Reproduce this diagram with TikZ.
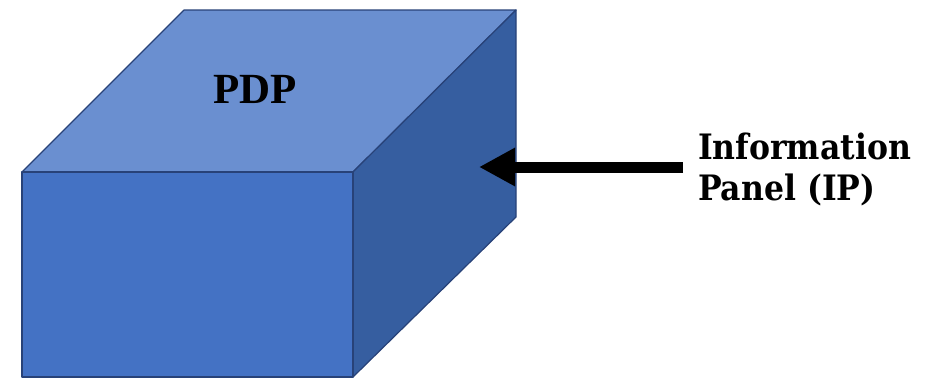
\documentclass[tikz,border=0pt]{standalone}
\usepackage{fontspec}
\setmainfont{Liberation Serif}
\newfontfamily\labfont{DejaVu Serif Condensed}
\usetikzlibrary{arrows.meta}
\definecolor{frontc}{RGB}{68,114,196}
\definecolor{topc}{RGB}{106,143,208}
\definecolor{sidec}{RGB}{54,94,160}
\definecolor{edgec}{RGB}{40,66,120}
\tikzset{
  face/.style={draw=edgec, line width=1.2pt, line join=round},
  pointer/.style={line width=11pt, -{Triangle[length=36pt,width=36pt]}},
  caption/.style={font=\labfont\bfseries\fontsize{35}{41}\selectfont, align=left, anchor=base west, inner sep=0pt}
}
\begin{document}
\begin{tikzpicture}[x=1pt,y=-1pt]
\useasboundingbox (0,0) rectangle (927,378);
% faces
\fill[topc] (22,172) -- (184,10) -- (516,10) -- (353,172) -- cycle;
\draw[face] (22,172) -- (184,10) -- (516,10) -- (353,172) -- cycle;
\fill[sidec] (353,172) -- (516,10) -- (516,217) -- (353,377) -- cycle;
\draw[face] (353,172) -- (516,10) -- (516,217) -- (353,377) -- cycle;
\fill[frontc] (22,172) rectangle (353,377);
\draw[face] (22,172) rectangle (353,377);
\node[font=\bfseries\fontsize{43}{43}\selectfont, anchor=base, inner sep=0pt] (pdp) at (255,103) {PDP};
\node[caption] (ip) at (698,200) {Information\\Panel (IP)};
\coordinate (tip) at (479,167);
\coordinate (tail) at (683,167);
\draw[pointer] (tail) -- (tip);
\end{tikzpicture}
\end{document}
